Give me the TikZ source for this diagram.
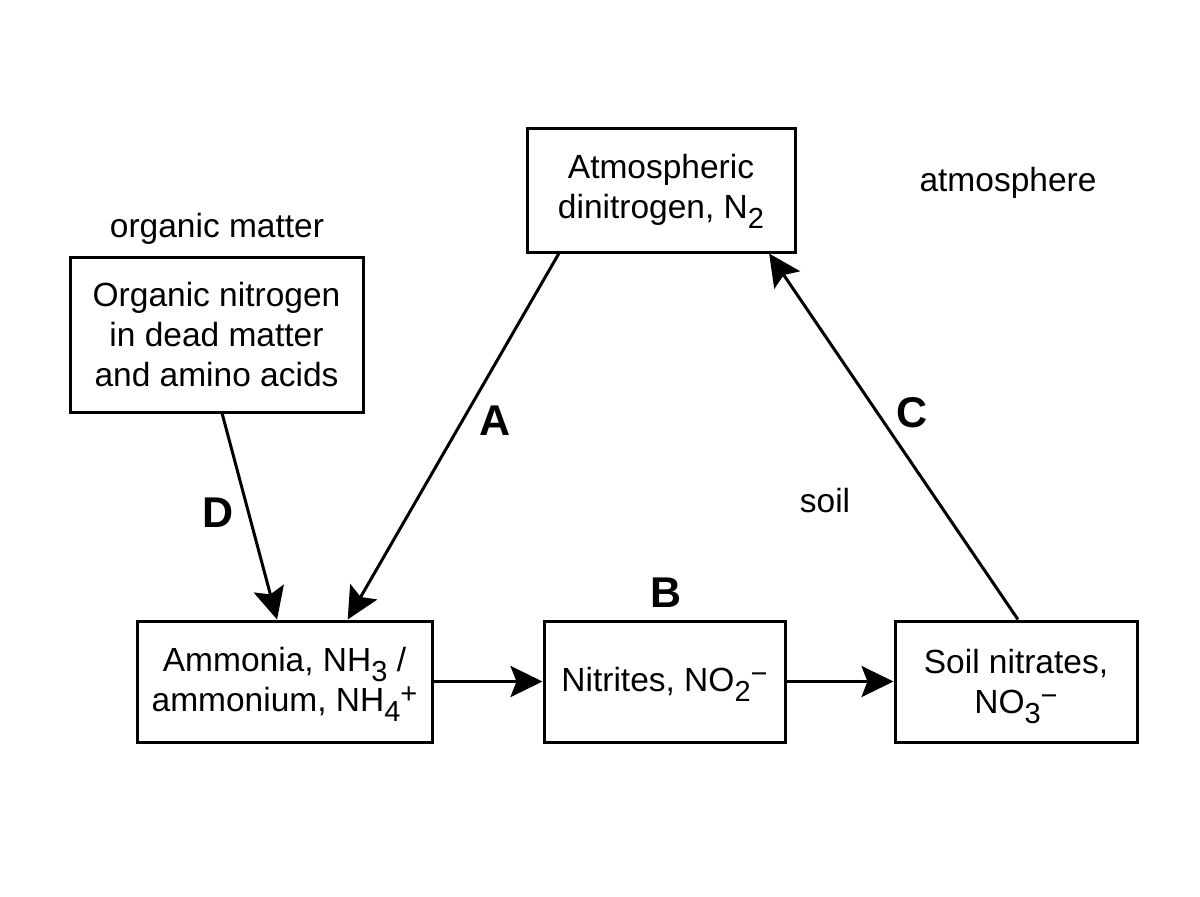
\documentclass[tikz,border=0pt]{standalone}
\usepackage{fontspec}
\setmainfont{Liberation Sans}
\usetikzlibrary{arrows.meta,calc}
\newcommand\mydn[1]{\smash{\raisebox{-5pt}{\fontsize{14.5}{14.5}\selectfont #1}}}
\newcommand\myup[1]{\smash{\raisebox{4pt}{\fontsize{14.5}{14.5}\selectfont #1}}}
\begin{document}
\begin{tikzpicture}[x=0.5pt,y=-0.5pt,
  box/.style={draw,line width=1.5pt,align=center,inner sep=0pt,
    font=\fontsize{16.75}{20}\selectfont},
  lbl/.style={font=\fontsize{16.75}{20}\selectfont,inner sep=0pt},
  letter/.style={font=\fontsize{21.5}{24}\selectfont\bfseries,inner sep=0pt},
  conn/.style={line width=1.5pt,-{Stealth[length=16pt,width=15.5pt,inset=3pt]}}]
\useasboundingbox (0,0) rectangle (1200,896);
\node[box,minimum width=134pt,minimum height=62pt] (atm) at (661,190) {Atmospheric\\dinitrogen, N\mydn{2}};
\node[box,minimum width=146.5pt,minimum height=77.5pt] (org) at (216.5,334.5) {Organic nitrogen\\in dead matter\\and amino acids};
\node[box,minimum width=147.5pt,minimum height=60.5pt] (amm) at (284.5,681.5) {Ammonia, NH\mydn{3} /\\ammonium, NH\mydn{4}\myup{+}};
\node[box,minimum width=120.5pt,minimum height=60.5pt] (nit) at (664.5,681.5) {Nitrites, NO\mydn{2}\myup{−}};
\node[box,minimum width=121pt,minimum height=60.5pt] (soil) at (1016,681.5) {Soil nitrates,\\NO\mydn{3}\myup{−}};
\node[lbl] (latm) at (1008,183) {atmosphere};
\node[lbl] (lorg) at (217,229) {organic matter};
\node[lbl] (lsoil) at (825,501) {soil};
\node[letter] (la) at (495,421) {A};
\node[letter] (lb) at (666,593) {B};
\node[letter] (lc) at (912,413) {C};
\node[letter] (ld) at (218,513) {D};
\draw[conn] ($(atm.south west)!0.123!(atm.south east)$) -- ($(amm.north west)!0.712!(amm.north east)$);
\draw[conn] ($(org.south west)!0.519!(org.south east)$) -- ($(amm.north west)!0.475!(amm.north east)$);
\draw[conn] ($(soil.north west)!0.508!(soil.north east)$) -- ($(atm.south west)!0.899!(atm.south east)$);
\draw[conn] (amm.east) -- (nit.west);
\draw[conn] (nit.east) -- (soil.west);
\end{tikzpicture}
\end{document}
